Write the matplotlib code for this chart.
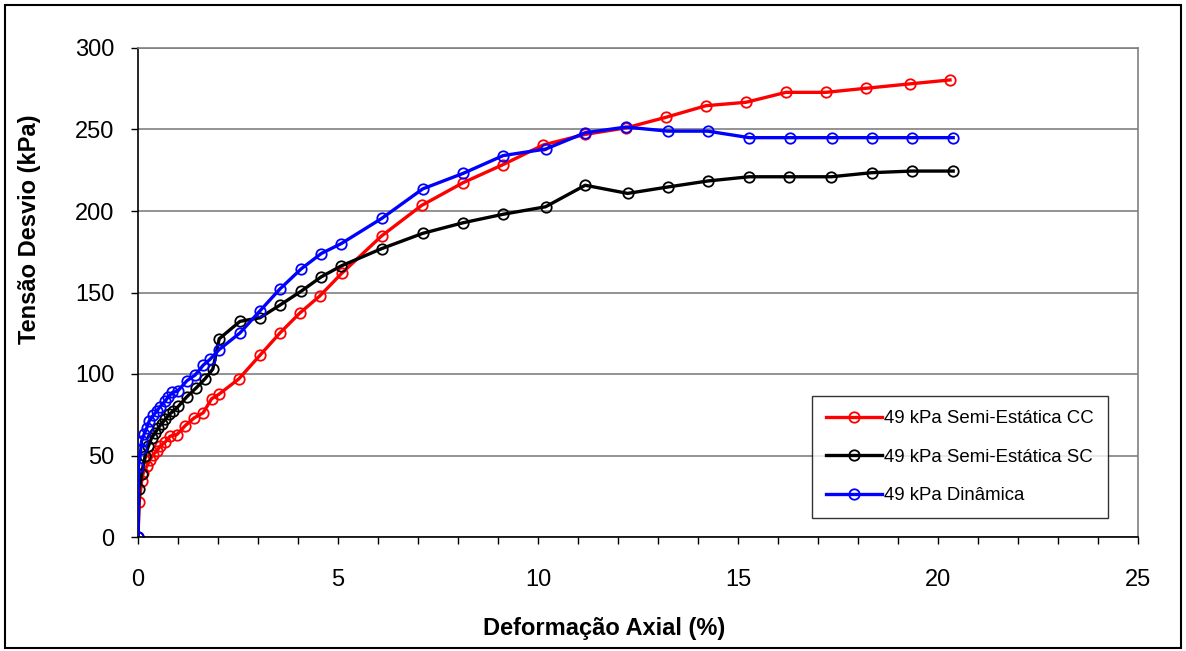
import matplotlib
matplotlib.use("Agg")
import matplotlib.pyplot as plt
from matplotlib.patches import Rectangle
from matplotlib.ticker import MultipleLocator

# 49 kPa Semi-Estática CC (red)
cc_x = [0, 0.03, 0.09, 0.13, 0.22, 0.3, 0.38, 0.47, 0.55, 0.68, 0.8, 0.97,
        1.18, 1.4, 1.63, 1.84, 2.02, 2.52, 3.05, 3.55, 4.05, 4.55, 5.09,
        6.09, 7.09, 8.13, 9.13, 10.13, 11.18, 12.2, 13.2, 14.2, 15.2, 16.2,
        17.2, 18.2, 19.3, 20.3]
cc_y = [0, 21.7, 34.2, 39.3, 43.4, 47.5, 50.6, 52.7, 55.7, 58.2, 61.8, 62.8,
        68.3, 73, 76.2, 84.8, 87.5, 97, 111.5, 125.2, 137.5, 148, 161.7,
        184.7, 203.4, 217.4, 228.5, 240.5, 247, 251, 257.5, 264.6, 266.7,
        272.8, 272.8, 275.3, 278, 280.4]

# 49 kPa Semi-Estática SC (black)
sc_x = [0, 0.03, 0.09, 0.18, 0.26, 0.34, 0.43, 0.51, 0.59, 0.68, 0.78, 0.88,
        1.01, 1.22, 1.46, 1.68, 1.87, 2.03, 2.55, 3.05, 3.55, 4.08, 4.58,
        5.08, 6.09, 7.12, 8.13, 9.13, 10.19, 11.18, 12.24, 13.24, 14.24,
        15.28, 16.28, 17.33, 18.34, 19.34, 20.38]
sc_y = [0, 29.6, 38.4, 50, 55.7, 60.8, 63.9, 67, 69.6, 72.1, 75.2, 77.2,
        80.2, 86, 91.6, 97.2, 103, 121.6, 132.3, 134.5, 142.3, 150.8, 159.6,
        166.3, 176.9, 186.3, 192.8, 198, 202.6, 215.8, 210.8, 214.7, 218.4,
        221, 221, 221, 223.5, 224.5, 224.5]

# 49 kPa Dinâmica (blue)
din_x = [0, 0.01, 0.07, 0.09, 0.15, 0.22, 0.28, 0.38, 0.47, 0.55, 0.68,
         0.76, 0.86, 0.99, 1.22, 1.43, 1.63, 1.8, 2.03, 2.55, 3.04, 3.55,
         4.08, 4.58, 5.08, 6.09, 7.12, 8.13, 9.13, 10.19, 11.18, 12.2, 13.24,
         14.24, 15.28, 16.3, 17.34, 18.34, 19.34, 20.38]
din_y = [0, 42.9, 53.7, 58.8, 62.9, 67, 71.2, 74.6, 77.2, 80, 83.4, 86,
         88.7, 89.5, 95.8, 99.4, 105.4, 109, 115, 125.2, 138.5, 152.2, 164.5,
         173.9, 180, 195.4, 213.6, 223.1, 234, 238, 248, 251.5, 249, 249,
         245, 245, 245, 245, 245, 245]

labels = ["49 kPa Semi-Estática CC", "49 kPa Semi-Estática SC",
          "49 kPa Dinâmica"]
colors = ["#ff0000", "#000000", "#0000ff"]

plt.rcParams["font.family"] = ["Liberation Sans", "DejaVu Sans"]

fig = plt.figure(figsize=(11.86, 6.51), dpi=100)
ax = fig.add_axes([138 / 1186, 1 - 537 / 651, 1000 / 1186, 489 / 651])

for xs, ys, lab, c in zip([cc_x, sc_x, din_x], [cc_y, sc_y, din_y],
                          labels, colors):
    ax.plot(xs, ys, color=c, lw=2.4, marker="o", ms=7.5, mfc="none",
            mec=c, mew=1.3, label=lab, zorder=3)

ax.set_xlim(0, 25)
ax.set_ylim(0, 300)
ax.xaxis.set_major_locator(MultipleLocator(5))
ax.xaxis.set_minor_locator(MultipleLocator(1))
ax.yaxis.set_major_locator(MultipleLocator(50))
ax.tick_params(axis="both", which="both", direction="out", length=5,
               width=1, labelsize=17, colors="black")
ax.tick_params(axis="x", pad=18)
ax.tick_params(axis="y", pad=12)
ax.grid(axis="y", color="#808080", lw=1.2, zorder=1)
for s in ("top", "right"):
    ax.spines[s].set_color("#808080")
    ax.spines[s].set_linewidth(1.2)
for s in ("left", "bottom"):
    ax.spines[s].set_color("black")
    ax.spines[s].set_linewidth(1.2)
ax.spines["bottom"].set_zorder(4)

ax.set_xlabel("Deformação Axial (%)", fontsize=17, fontweight="bold")
ax.set_ylabel("Tensão Desvio (kPa)", fontsize=17, fontweight="bold")
# Excel put the titles a bit off-centre, so place them by hand
ax.xaxis.set_label_coords(0.466, -0.163)
ax.yaxis.set_label_coords(-0.097, 0.63)

leg = ax.legend(loc="lower right", bbox_to_anchor=(970 / 1000, 19 / 489),
                fontsize=13.4, frameon=True, fancybox=False, handlelength=3,
                handletextpad=0.15, borderpad=0.75, labelspacing=1.15,
                borderaxespad=0)
leg.get_frame().set_edgecolor("black")
leg.get_frame().set_linewidth(1.0)

fig.add_artist(Rectangle((5 / 1186, 3 / 651), 1176 / 1186, 643 / 651,
                         transform=fig.transFigure, fill=False,
                         edgecolor="black", lw=1.5))

fig.savefig("out.png", dpi=100)
